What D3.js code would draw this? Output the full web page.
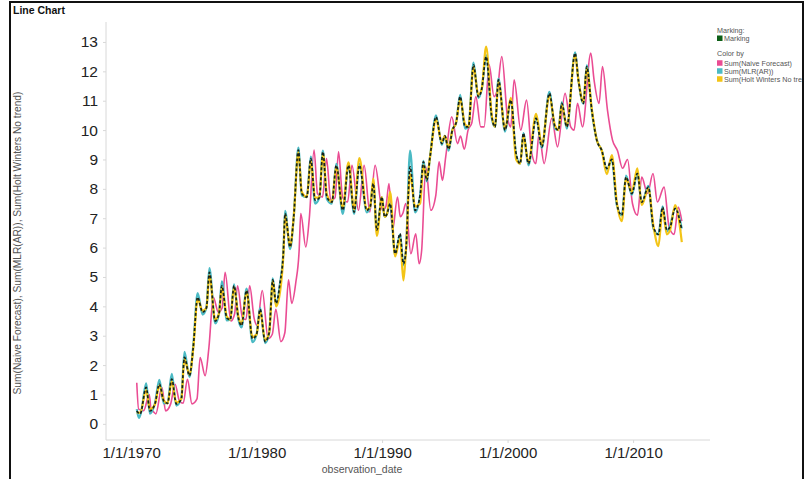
<!DOCTYPE html>
<html>
<head>
<meta charset="utf-8">
<script src="https://cdn.jsdelivr.net/npm/d3@7"></script>
<style>
  body { margin: 0; background: #fff; }
  svg { display: block; font-family: "Liberation Sans", Arial, sans-serif; }
</style>
</head>
<body>
<div id="chart"></div>
<script>
// ---- data: [decimal year, value] ----
const actualSeries = [
  [1970.45,0.44],[1970.72,0.34],[1971.20,1.24],[1971.50,0.44],[1971.90,0.68],[1972.25,1.35],[1972.60,0.78],[1972.90,0.70],
  [1973.24,1.52],[1973.60,0.68],[1974.00,0.85],[1974.25,2.26],[1974.65,1.64],[1974.95,2.60],[1975.30,4.31],[1975.70,3.80],
  [1976.00,3.95],[1976.24,5.16],[1976.70,3.50],[1977.00,3.75],[1977.23,4.70],[1977.63,3.60],[1977.90,3.55],[1978.20,4.70],
  [1978.55,3.60],[1978.80,3.35],[1979.20,4.54],[1979.67,2.90],[1980.00,3.05],[1980.28,3.90],[1980.68,2.80],[1981.00,3.10],
  [1981.29,4.90],[1981.55,4.10],[1981.87,4.80],[1982.14,5.90],[1982.27,7.16],[1982.67,6.02],[1982.95,7.00],[1983.33,9.32],
  [1983.60,7.84],[1984.00,7.72],[1984.32,9.03],[1984.66,7.61],[1985.00,7.70],[1985.28,9.26],[1985.60,7.72],[1986.00,7.55],
  [1986.35,8.80],[1986.87,7.27],[1987.32,8.80],[1987.77,7.21],[1988.19,8.80],[1988.78,7.27],[1989.05,7.40],[1989.30,8.18],
  [1989.58,6.59],[1989.98,7.72],[1990.20,7.05],[1990.40,7.16],[1990.64,7.50],[1991.04,5.79],[1991.43,6.47],[1991.70,5.45],
  [1991.90,5.90],[1992.23,8.75],[1992.63,7.27],[1993.03,7.78],[1993.29,8.92],[1993.56,8.29],[1993.82,9.09],[1994.30,10.45],
  [1994.76,9.54],[1995.00,9.80],[1995.30,9.35],[1995.60,10.00],[1995.90,10.25],[1996.22,11.14],[1996.61,10.11],[1996.88,10.11],
  [1997.28,12.22],[1997.67,11.14],[1997.94,11.40],[1998.29,12.50],[1998.74,10.45],[1999.00,10.11],[1999.27,11.71],[1999.80,10.00],
  [2000.26,11.02],[2000.68,9.20],[2001.00,8.86],[2001.26,9.89],[2001.66,8.86],[2002.27,10.40],[2002.73,9.43],[2003.33,11.25],
  [2003.78,10.11],[2004.05,10.00],[2004.32,10.91],[2004.72,10.11],[2005.38,12.62],[2005.64,11.71],[2006.04,10.91],[2006.31,12.16],
  [2006.71,10.68],[2007.11,9.66],[2007.51,9.30],[2007.91,8.70],[2008.31,9.00],[2008.70,7.50],[2009.10,7.10],[2009.44,8.40],
  [2009.90,7.84],[2010.34,8.52],[2010.69,7.55],[2011.22,8.06],[2011.62,6.70],[2012.02,6.45],[2012.35,7.38],[2012.69,6.60],
  [2012.95,6.70],[2013.35,7.33],[2013.88,6.60]
];

const naiveForecast = [
  [1970.45,1.40],[1970.60,0.50],[1971.00,0.45],[1971.45,1.00],[1971.60,0.45],[1971.70,0.44],[1971.97,0.34],[1972.45,1.24],
  [1972.75,0.44],[1973.15,0.68],[1973.50,1.35],[1973.85,0.78],[1974.15,0.70],[1974.49,1.52],[1974.85,0.68],[1975.25,0.85],
  [1975.50,2.26],[1975.90,1.64],[1976.20,2.60],[1976.55,4.31],[1976.95,3.80],[1977.25,3.95],[1977.49,5.16],[1977.95,3.50],
  [1978.25,3.75],[1978.48,4.70],[1978.88,3.60],[1979.15,3.55],[1979.45,4.70],[1979.80,3.60],[1980.05,3.35],[1980.45,4.54],
  [1980.92,2.90],[1981.25,3.05],[1981.53,3.90],[1981.93,2.80],[1982.25,3.10],[1982.54,4.90],[1982.80,4.10],[1983.12,4.80],
  [1983.39,5.90],[1983.52,7.16],[1983.92,6.02],[1984.20,7.00],[1984.58,9.32],[1984.85,7.84],[1985.25,7.72],[1985.57,9.03],
  [1985.91,7.61],[1986.25,7.70],[1986.53,9.26],[1986.85,7.72],[1987.25,7.55],[1987.60,8.80],[1988.12,7.27],[1988.57,8.80],
  [1989.02,7.21],[1989.44,8.80],[1990.03,7.27],[1990.30,7.40],[1990.55,8.18],[1990.83,6.59],[1991.23,7.72],[1991.45,7.05],
  [1991.65,7.16],[1991.89,7.50],[1992.29,5.79],[1992.68,6.47],[1992.95,5.45],[1993.15,5.90],[1993.48,8.75],[1993.88,7.27],
  [1994.28,7.78],[1994.54,8.92],[1994.81,8.29],[1995.07,9.09],[1995.55,10.45],[1996.01,9.54],[1996.25,9.80],[1996.55,9.35],
  [1996.85,10.00],[1997.15,10.25],[1997.47,11.14],[1997.86,10.11],[1998.13,10.11],[1998.53,12.22],[1998.92,11.14],[1999.19,11.40],
  [1999.54,12.50],[1999.99,10.45],[2000.25,10.11],[2000.52,11.71],[2001.05,10.00],[2001.51,11.02],[2001.93,9.20],[2002.25,8.86],
  [2002.51,9.89],[2002.91,8.86],[2003.52,10.40],[2003.98,9.43],[2004.58,11.25],[2005.03,10.11],[2005.30,10.00],[2005.57,10.91],
  [2005.97,10.11],[2006.63,12.62],[2006.89,11.71],[2007.29,10.91],[2007.56,12.16],[2007.96,10.68],[2008.36,9.66],[2008.76,9.30],
  [2009.16,8.70],[2009.56,9.00],[2009.95,7.50],[2010.35,7.10],[2010.69,8.40],[2011.15,7.84],[2011.59,8.52],[2011.94,7.55],
  [2012.47,8.06],[2012.87,6.70],[2013.27,6.45],[2013.60,7.38],[2013.88,6.90]
];

const mlrAR = [
  [1970.45,0.50],[1970.62,0.20],[1970.80,0.40],[1971.20,1.38],[1971.50,0.35],[1971.90,0.70],[1972.25,1.50],[1972.60,0.70],[1972.90,0.72],
  [1973.24,1.70],[1973.60,0.62],[1974.00,0.88],[1974.25,2.45],[1974.65,1.60],[1974.95,2.65],[1975.30,4.45],[1975.70,3.72],
  [1976.00,3.95],[1976.24,5.30],[1976.70,3.42],[1977.00,3.75],[1977.23,4.85],[1977.63,3.52],[1977.90,3.55],[1978.20,4.75],
  [1978.55,3.55],[1978.80,3.28],[1979.20,4.60],[1979.67,2.78],[1980.00,3.05],[1980.28,3.95],[1980.68,2.75],[1981.00,3.10],
  [1981.29,4.95],[1981.55,4.05],[1981.87,4.80],[1982.14,5.90],[1982.27,7.25],[1982.67,5.95],[1982.95,7.00],[1983.33,9.40],
  [1983.60,7.78],[1984.00,7.72],[1984.32,9.10],[1984.66,7.50],[1985.00,7.70],[1985.28,9.30],[1985.60,7.65],[1986.00,7.50],
  [1986.35,8.85],[1986.87,7.15],[1987.32,8.85],[1987.77,7.15],[1988.19,8.85],[1988.78,7.20],[1989.05,7.40],[1989.30,8.20],
  [1989.58,6.55],[1989.98,7.72],[1990.20,7.05],[1990.40,7.16],[1990.64,7.50],[1991.04,5.75],[1991.43,6.45],[1991.70,5.40],
  [1991.90,5.90],[1992.23,9.30],[1992.63,7.20],[1993.03,7.78],[1993.29,8.95],[1993.56,8.25],[1993.82,9.09],[1994.30,10.50],
  [1994.76,9.50],[1995.00,9.80],[1995.30,9.30],[1995.60,10.00],[1995.90,10.25],[1996.22,11.20],[1996.61,10.05],[1996.88,10.11],
  [1997.28,12.30],[1997.67,11.10],[1997.94,11.40],[1998.29,12.55],[1998.74,10.40],[1999.00,10.11],[1999.27,11.75],[1999.80,9.95],
  [2000.26,11.05],[2000.68,9.15],[2001.00,8.86],[2001.26,9.90],[2001.66,8.80],[2002.27,10.45],[2002.73,9.40],[2003.33,11.30],
  [2003.78,10.05],[2004.05,10.00],[2004.32,10.95],[2004.72,10.05],[2005.38,12.65],[2005.64,11.71],[2006.04,10.90],[2006.31,12.20],
  [2006.71,10.65],[2007.11,9.66],[2007.51,9.30],[2007.91,8.65],[2008.31,9.00],[2008.70,7.45],[2009.10,7.10],[2009.44,8.45],
  [2009.90,7.80],[2010.34,8.55],[2010.69,7.50],[2011.22,8.10],[2011.62,6.65],[2012.02,6.45],[2012.35,7.40],[2012.69,6.55],
  [2012.95,6.75],[2013.35,7.35],[2013.88,6.65]
];

const holtWinters = [
  [1970.45,0.40],[1970.72,0.38],[1971.20,1.15],[1971.50,0.50],[1971.90,0.66],[1972.25,1.30],[1972.60,0.80],[1972.90,0.70],
  [1973.24,1.45],[1973.60,0.72],[1974.00,0.85],[1974.25,2.20],[1974.65,1.68],[1974.95,2.55],[1975.30,4.25],[1975.70,3.85],
  [1976.00,3.95],[1976.24,5.05],[1976.70,3.55],[1977.00,3.75],[1977.23,4.65],[1977.63,3.65],[1977.90,3.55],[1978.20,4.65],
  [1978.55,3.65],[1978.80,3.40],[1979.20,4.50],[1979.67,2.95],[1980.00,3.05],[1980.28,3.85],[1980.68,2.85],[1981.00,3.10],
  [1981.29,4.85],[1981.55,4.00],[1981.87,4.50],[1982.14,5.80],[1982.27,7.10],[1982.67,6.05],[1982.95,7.00],[1983.33,9.25],
  [1983.60,7.90],[1984.00,7.72],[1984.32,8.95],[1984.66,7.70],[1985.00,7.70],[1985.28,9.20],[1985.60,7.80],[1986.00,7.55],
  [1986.35,8.75],[1986.87,7.35],[1987.32,8.90],[1987.77,7.30],[1988.19,9.05],[1988.78,7.30],[1989.05,7.40],[1989.30,8.35],
  [1989.58,6.40],[1989.98,7.72],[1990.20,7.05],[1990.40,7.16],[1990.64,7.90],[1991.04,5.70],[1991.43,6.30],[1991.70,4.88],
  [1991.90,5.90],[1992.23,8.50],[1992.63,7.40],[1993.03,7.50],[1993.29,8.80],[1993.56,8.35],[1993.82,9.09],[1994.30,10.35],
  [1994.76,9.60],[1995.00,9.80],[1995.30,9.40],[1995.60,10.00],[1995.90,10.25],[1996.22,11.05],[1996.61,10.20],[1996.88,10.11],
  [1997.28,12.15],[1997.67,11.20],[1997.94,11.40],[1998.29,12.84],[1998.74,10.50],[1999.00,10.11],[1999.27,11.65],[1999.80,10.05],
  [2000.26,11.10],[2000.68,9.00],[2001.00,8.86],[2001.26,9.80],[2001.66,8.90],[2002.27,10.55],[2002.73,9.50],[2003.33,11.15],
  [2003.78,10.15],[2004.05,10.00],[2004.32,10.85],[2004.72,10.15],[2005.38,12.55],[2005.64,11.71],[2006.04,10.95],[2006.31,12.10],
  [2006.71,10.72],[2007.11,9.66],[2007.51,9.30],[2007.91,8.50],[2008.31,9.15],[2008.70,7.55],[2009.10,6.90],[2009.44,8.35],
  [2009.90,7.90],[2010.34,8.70],[2010.69,7.45],[2011.22,8.00],[2011.62,6.75],[2012.02,6.05],[2012.35,7.30],[2012.69,6.45],
  [2012.95,6.60],[2013.35,7.45],[2013.88,6.19]
];

const yTicks = [0,1,2,3,4,5,6,7,8,9,10,11,12,13];
const xTickYears = [1970,1980,1990,2000,2010];
const legendItems = ['Sum(Naive Forecast)', 'Sum(MLR(AR))', 'Sum(Holt Winters No trend)'];
const legendColors = ['#ea4c93', '#4bbac4', '#f3c416'];

// ---- layout ----
const width = 806, height = 479;
const plot = { left: 106, right: 710, top: 22, bottom: 440 };

function toDate(y) {
    const yr = Math.floor(y);
    const a = new Date(yr, 0, 1), b = new Date(yr + 1, 0, 1);
    return new Date(+a + (y - yr) * (b - a));
}

const x = d3.scaleTime()
    .domain([toDate(1968.0), toDate(2016.13)])
    .range([plot.left, plot.right]);

const y = d3.scaleLinear()
    .domain([-0.55, 13.68])
    .range([plot.bottom, plot.top]);

const svg = d3.select('#chart').append('svg')
    .attr('width', width)
    .attr('height', height);

// clip for the legend, text runs into the frame like the original
svg.append('clipPath').attr('id', 'frameClip')
    .append('rect').attr('x', 0).attr('y', 0).attr('width', 802).attr('height', height);

// frame + title
svg.append('path')
    .attr('d', `M10,${height + 2} V2 H803 V${height + 2}`)
    .attr('fill', 'none')
    .attr('stroke', '#111')
    .attr('stroke-width', 2);

svg.append('text')
    .attr('x', 13).attr('y', 14)
    .attr('font-size', 10.5)
    .attr('font-weight', 'bold')
    .attr('fill', '#111')
    .text('Line Chart');

// y axis
const yAxis = svg.append('g')
    .attr('transform', `translate(${plot.left},0)`)
    .call(d3.axisLeft(y).tickValues(yTicks).tickSize(3).tickPadding(5));
yAxis.select('.domain').attr('stroke', '#d8d8d8').attr('d', `M0,${plot.top}V${plot.bottom}`);
yAxis.selectAll('.tick line').attr('stroke', '#d8d8d8');
yAxis.selectAll('.tick text')
    .attr('font-size', 15.5)
    .attr('fill', '#222')
    .attr('font-family', '"Liberation Sans", Arial, sans-serif');

// x axis
const xAxis = svg.append('g')
    .attr('transform', `translate(0,${plot.bottom})`)
    .call(d3.axisBottom(x)
        .tickValues(xTickYears.map(d => new Date(d, 0, 1)))
        .tickFormat(d => `1/1/${d.getFullYear()}`)
        .tickSize(3).tickPadding(4));
xAxis.select('.domain').attr('stroke', '#d8d8d8').attr('d', `M${plot.left},0H${plot.right}`);
xAxis.selectAll('.tick line').attr('stroke', '#d8d8d8');
xAxis.selectAll('.tick text')
    .attr('font-size', 15)
    .attr('fill', '#222')
    .attr('font-family', '"Liberation Sans", Arial, sans-serif');

// axis titles
svg.append('text')
    .attr('x', 362).attr('y', 473)
    .attr('text-anchor', 'middle')
    .attr('font-size', 10.5)
    .attr('fill', '#555')
    .text('observation_date');

svg.append('text')
    .attr('transform', 'translate(21,243) rotate(-90)')
    .attr('text-anchor', 'middle')
    .attr('font-size', 10.2)
    .attr('fill', '#555')
    .text('Sum(Naive Forecast), Sum(MLR(AR)), Sum(Holt Winters No trend)');

// lines
const line = d3.line()
    .curve(d3.curveMonotoneX)
    .x(d => x(toDate(d[0])))
    .y(d => y(d[1]));

const g = svg.append('g');

g.append('path').datum(naiveForecast)
    .attr('d', line).attr('fill', 'none')
    .attr('stroke', legendColors[0]).attr('stroke-width', 1.6)
    .attr('stroke-linejoin', 'round');

g.append('path').datum(mlrAR)
    .attr('d', line).attr('fill', 'none')
    .attr('stroke', legendColors[1]).attr('stroke-width', 2.2)
    .attr('stroke-linejoin', 'round');

g.append('path').datum(holtWinters)
    .attr('d', line).attr('fill', 'none')
    .attr('stroke', legendColors[2]).attr('stroke-width', 2.2)
    .attr('stroke-linejoin', 'round');

// marked line drawn on top, dashed
g.append('path').datum(actualSeries)
    .attr('d', line).attr('fill', 'none')
    .attr('stroke', '#16231a').attr('stroke-width', 1.7)
    .attr('stroke-dasharray', '3,2')
    .attr('stroke-linejoin', 'round');

// legend
const legend = svg.append('g')
    .attr('clip-path', 'url(#frameClip)')
    .attr('font-size', 7.2)
    .attr('fill', '#555');

legend.append('text').attr('x', 717).attr('y', 33).text('Marking:');
legend.append('rect').attr('x', 717).attr('y', 35.5).attr('width', 5.5).attr('height', 5.5).attr('fill', '#0d5e16');
legend.append('text').attr('x', 724).attr('y', 41).text('Marking');
legend.append('text').attr('x', 717).attr('y', 56).text('Color by');

legendItems.forEach((name, i) => {
    const cy = 63 + i * 8;
    legend.append('rect')
        .attr('x', 717).attr('y', cy - 2.75)
        .attr('width', 5.5).attr('height', 5.5)
        .attr('fill', legendColors[i]);
    legend.append('text')
        .attr('x', 724).attr('y', cy + 2.5)
        .text(name);
});
</script>
</body>
</html>
